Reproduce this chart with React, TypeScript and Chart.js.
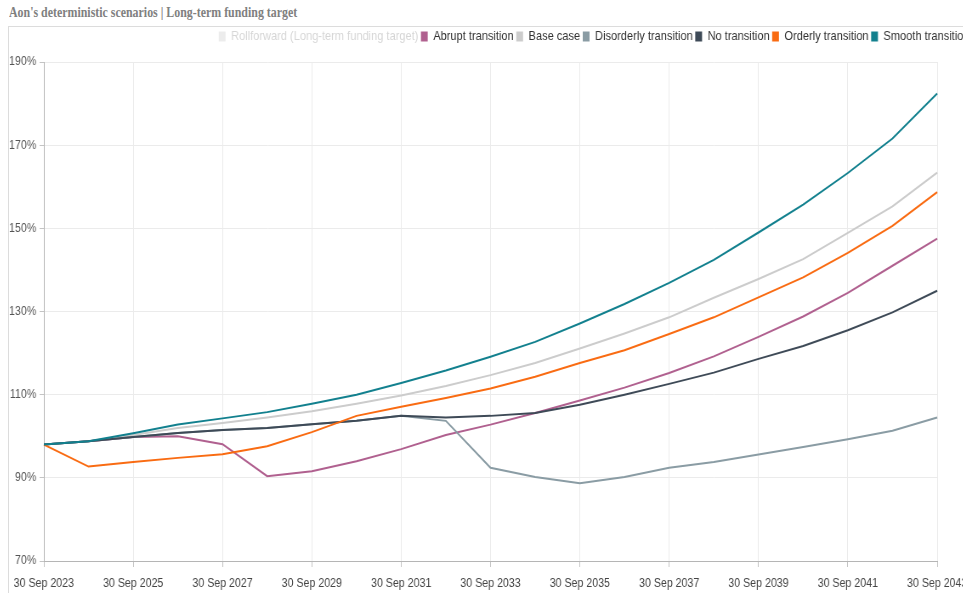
import React, { useEffect, useRef } from "react";
import { Chart, registerables } from "chart.js";

Chart.register(...registerables);

const categories = [
  "30 Sep 2023", "30 Sep 2024", "30 Sep 2025", "30 Sep 2026", "30 Sep 2027",
  "30 Sep 2028", "30 Sep 2029", "30 Sep 2030", "30 Sep 2031", "30 Sep 2032",
  "30 Sep 2033", "30 Sep 2034", "30 Sep 2035", "30 Sep 2036", "30 Sep 2037",
  "30 Sep 2038", "30 Sep 2039", "30 Sep 2040", "30 Sep 2041", "30 Sep 2042",
  "30 Sep 2043",
];

const rollforward: number[] = [];
const abrupt = [98, 98.8, 99.8, 100.0, 98.1, 90.4, 91.6, 94.0, 96.9, 100.3, 102.8, 105.6, 108.6, 111.7, 115.2, 119.2, 123.9, 128.8, 134.5, 141.0, 147.5];
const baseCase = [98, 98.8, 100.3, 102.0, 103.2, 104.5, 106.0, 107.8, 109.8, 112.1, 114.7, 117.6, 121.1, 124.7, 128.6, 133.3, 137.8, 142.6, 148.9, 155.3, 163.4];
const disorderly = [98, 98.8, 99.8, 100.8, 101.5, 102.0, 102.9, 103.7, 104.9, 103.7, 92.4, 90.2, 88.7, 90.2, 92.4, 93.8, 95.6, 97.4, 99.3, 101.3, 104.5];
const noTransition = [98, 98.8, 99.8, 100.8, 101.5, 102.0, 102.9, 103.7, 104.9, 104.5, 104.9, 105.6, 107.6, 110.0, 112.6, 115.3, 118.6, 121.7, 125.5, 129.8, 135.0];
const orderly = [98, 92.7, 93.8, 94.8, 95.7, 97.6, 101.0, 104.9, 107.1, 109.2, 111.5, 114.3, 117.6, 120.7, 124.6, 128.6, 133.4, 138.2, 144.1, 150.6, 158.7];
const smooth = [98, 98.8, 100.7, 102.8, 104.3, 105.8, 107.8, 110.0, 112.8, 115.8, 119.1, 122.7, 127.1, 131.8, 136.9, 142.4, 149.0, 155.7, 163.3, 171.6, 182.4];

const seriesNames = [
  "Rollforward (Long-term funding target)",
  "Abrupt transition",
  "Base case",
  "Disorderly transition",
  "No transition",
  "Orderly transition",
  "Smooth transition",
];
const seriesColors = ["#ececec", "#b0608f", "#cccccc", "#8a9ca4", "#3e4a57", "#f96b12", "#12808e"];
const legendTextColors = ["#d6d6d6", "#333333", "#333333", "#333333", "#333333", "#333333", "#333333"];

const yTicks = [70, 90, 110, 130, 150, 170, 190];

const FONT = '"Liberation Sans", Arial, sans-serif';
// horizontal squeeze of the whole chart (text looks condensed in the reference)
const SQUEEZE = 0.85;
const CSS_W = 963;
const CSS_H = 566;
const INNER_W = Math.round(CSS_W / SQUEEZE);

export default function App() {
  const ref = useRef<HTMLCanvasElement>(null);

  useEffect(() => {
    if (!ref.current) return;
    const values = [rollforward, abrupt, baseCase, disorderly, noTransition, orderly, smooth];
    const legendSpacer = {
      id: "legendSpacer",
      beforeLayout(chart: any) {
        const lg = chart.legend;
        if (lg && !lg._patched) {
          const fit = lg.fit;
          lg.fit = function () {
            fit.call(this);
            this.height = 35;
          };
          lg._patched = true;
        }
      },
    };
    const chart = new Chart(ref.current, {
      type: "line",
      data: {
        labels: categories,
        datasets: values.map((d, i) => ({
          label: seriesNames[i],
          data: d,
          borderColor: seriesColors[i],
          backgroundColor: seriesColors[i],
          borderWidth: 2,
          pointRadius: 0,
          tension: 0,
          fill: false,
          order: values.length - i,
        })),
      },
      plugins: [legendSpacer],
      options: {
        animation: false,
        responsive: false,
        maintainAspectRatio: false,
        layout: { padding: 0 },
        plugins: {
          tooltip: { enabled: false },
          legend: {
            display: true,
            position: "top",
            align: "end",
            labels: {
              boxWidth: 8,
              boxHeight: 10,
              padding: 3,
              font: { family: FONT, size: 13 },
              generateLabels(chart: any) {
                return chart.data.datasets.map((ds: any, i: number) => ({
                  text: ds.label,
                  fillStyle: seriesColors[i],
                  strokeStyle: seriesColors[i],
                  lineWidth: 0,
                  hidden: false,
                  fontColor: legendTextColors[i],
                  datasetIndex: i,
                }));
              },
            },
          },
        },
        scales: {
          x: {
            type: "category",
            offset: false,
            grid: { color: "#ebebeb", tickColor: "#c4c4c4", tickLength: 6 },
            border: { color: "#b5b5b5", width: 1 },
            ticks: {
              autoSkip: false,
              maxRotation: 0,
              minRotation: 0,
              padding: 3,
              color: "#444",
              font: { family: FONT, size: 12.5, lineHeight: 2.1 },
              callback: (_v: any, i: number) => (i % 2 === 0 ? categories[i] : null),
            },
            afterFit(scale: any) {
              scale.height = 32;
            },
          },
          y: {
            min: 70,
            max: 190,
            afterBuildTicks(scale: any) {
              scale.ticks = yTicks.map((v) => ({ value: v }));
            },
            grid: { color: "#ebebeb", tickColor: "#c4c4c4", tickLength: 5 },
            border: { color: "#b5b5b5", width: 1 },
            ticks: {
              padding: 4,
              color: "#555",
              font: { family: FONT, size: 12.5 },
              callback: (v: any) => v + "%",
            },
            afterFit(scale: any) {
              scale.width = 41;
            },
          },
          yRight: {
            position: "right",
            display: true,
            grid: { display: false, drawTicks: false },
            border: { display: false },
            ticks: { display: false },
            afterFit(scale: any) {
              scale.width = 41;
            },
          },
        },
      },
    });
    return () => chart.destroy();
  }, []);

  return (
    <div style={{ position: "absolute", left: 0, top: 0, width: 963, height: 593, overflow: "hidden", background: "#fff" }}>
      <div
        style={{
          position: "absolute",
          left: 9,
          top: 4,
          fontFamily: '"Liberation Serif", "DejaVu Serif", serif',
          fontWeight: "bold",
          fontSize: 14,
          lineHeight: "17px",
          color: "#808080",
          whiteSpace: "nowrap",
          transformOrigin: "left top",
          transform: "scaleX(0.85)",
        }}
      >
        Aon's deterministic scenarios | Long-term funding target
      </div>
      <div
        style={{
          position: "absolute",
          left: 8,
          top: 26,
          width: 1000,
          height: 600,
          borderLeft: "1px solid #dcdcdc",
          borderTop: "1px solid #dcdcdc",
        }}
      />
      <canvas
        ref={ref}
        width={INNER_W}
        height={CSS_H}
        style={{ position: "absolute", left: 9, top: 27, width: CSS_W, height: CSS_H }}
      />
    </div>
  );
}
